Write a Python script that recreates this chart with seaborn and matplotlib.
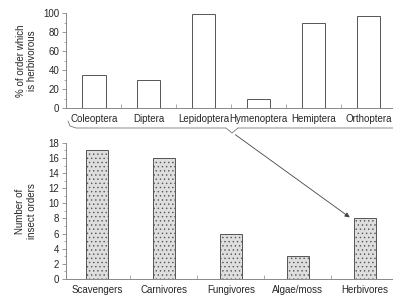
import matplotlib
matplotlib.use('Agg')
import matplotlib.pyplot as plt
import seaborn as sns
import pandas as pd
from matplotlib.ticker import MultipleLocator, FixedLocator
from matplotlib.lines import Line2D
from matplotlib.patches import FancyArrowPatch

# Data
orders = ['Coleoptera', 'Diptera', 'Lepidoptera', 'Hymenoptera', 'Hemiptera', 'Orthoptera']
pct_herbivorous = [35, 29, 99, 10, 89, 97]

feeding = ['Scavengers', 'Carnivores', 'Fungivores', 'Algae/moss', 'Herbivores']
n_orders = [17, 16, 6, 3, 8]

sns.set_style('white')
plt.rcParams['font.family'] = ['Liberation Sans', 'DejaVu Sans']
plt.rcParams['font.size'] = 7
plt.rcParams['hatch.color'] = '#b4b4b4'
plt.rcParams['hatch.linewidth'] = 0.5

spine_col = '#888888'
bar_edge = '#555555'

fig = plt.figure(figsize=(3.93, 2.96), dpi=100)
ax1 = fig.add_axes([0.168, 0.635, 0.832, 0.321])
ax2 = fig.add_axes([0.168, 0.0574, 0.832, 0.46])

df1 = pd.DataFrame({'order': orders, 'pct': pct_herbivorous})
sns.barplot(data=df1, x='order', y='pct', ax=ax1, width=0.42,
            facecolor='white', edgecolor=bar_edge, linewidth=0.7)

df2 = pd.DataFrame({'feeding': feeding, 'n': n_orders})
sns.barplot(data=df2, x='feeding', y='n', ax=ax2, width=0.33,
            facecolor='#dedede', edgecolor=bar_edge, linewidth=0.7,
            hatch='....')

ax1.set_xlim(-0.51, 5.45)
ax1.set_ylim(0, 100)
ax1.yaxis.set_major_locator(MultipleLocator(20))
ax1.yaxis.set_minor_locator(MultipleLocator(10))
ax1.set_ylabel('% of order which\nis herbivorous', fontsize=7, labelpad=4)

ax2.set_xlim(-0.46, 4.42)
ax2.set_ylim(0, 18)
ax2.yaxis.set_major_locator(MultipleLocator(2))
ax2.yaxis.set_minor_locator(MultipleLocator(1))
ax2.set_ylabel('Number of\ninsect orders', fontsize=7, labelpad=8)

for ax, n in [(ax1, len(orders)), (ax2, len(feeding))]:
    ax.set_xlabel('')
    for s in ['top', 'right']:
        ax.spines[s].set_visible(False)
    for s in ['left', 'bottom']:
        ax.spines[s].set_color(spine_col)
        ax.spines[s].set_linewidth(0.7)
    ax.tick_params(axis='y', which='major', direction='out', length=3,
                   width=0.6, color=spine_col, labelsize=7, pad=2, left=True)
    ax.tick_params(axis='y', which='minor', direction='out', length=1.5,
                   width=0.5, color=spine_col, left=True)
    ax.tick_params(axis='x', which='major', length=0, labelsize=7, pad=4)
    ax.xaxis.set_minor_locator(FixedLocator([i + 0.5 for i in range(n - 1)]))
    ax.tick_params(axis='x', which='minor', direction='in', length=3,
                   width=0.5, color=spine_col, bottom=True)

# bracket under the top chart and arrow to the herbivore bar
bx = [68, 70, 76, 226, 232, 238, 393]
by = [121, 126, 128, 128, 133, 128, 128]
fig.add_artist(Line2D([x / 393 for x in bx], [1 - y / 296 for y in by],
                      transform=fig.transFigure, color='#777777', lw=0.6))
fig.add_artist(FancyArrowPatch(
    (233 / 393, 1 - 133 / 296), (352 / 393, 1 - 219 / 296),
    transform=fig.transFigure, arrowstyle='-|>', mutation_scale=7,
    color='#444444', lw=0.6))

fig.savefig('out.png', dpi=100)
